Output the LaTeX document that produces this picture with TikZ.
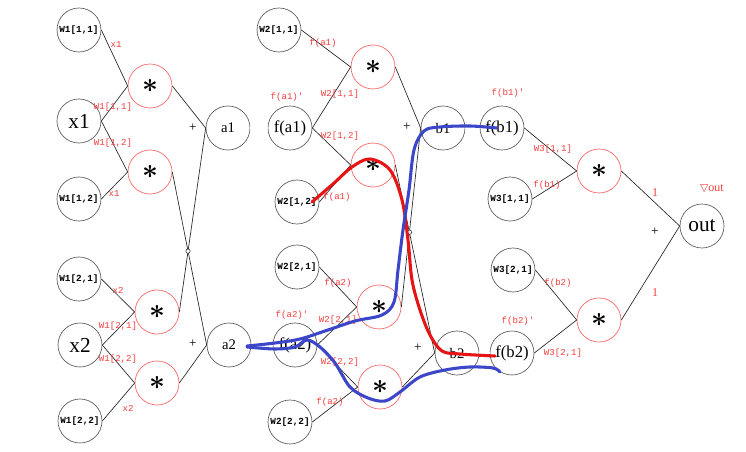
\documentclass[tikz,border=0pt]{standalone}
\usepackage{amsmath}
\usepackage{fontspec}
\setmainfont{Liberation Serif}
\setmonofont{Liberation Mono}
\newfontfamily\symfont{DejaVu Sans}
\usetikzlibrary{intersections}
\definecolor{nodegray}{RGB}{90,90,90}
\definecolor{lred}{RGB}{250,100,100}
\definecolor{labred}{RGB}{245,60,60}
\definecolor{pathred}{RGB}{230,20,20}
\definecolor{pathblue}{RGB}{60,70,200}
\newcommand{\mulsym}{\ensuremath{\boldsymbol{\ast}}}
\begin{document}
\begin{tikzpicture}[x=0.75pt,y=-0.75pt,
  gnode/.style={circle,draw=nodegray,line width=0.5pt,minimum size=33pt,inner sep=0pt},
  mnode/.style={circle,draw=lred,line width=0.5pt,minimum size=33pt,inner sep=0pt,font=\fontsize{20}{20}\selectfont},
  wlab/.style={font=\ttfamily\bfseries\fontsize{7}{7}\selectfont},
  big/.style={font=\fontsize{16}{16}\selectfont},
  mid/.style={font=\fontsize{11}{11}\selectfont},
  fmid/.style={font=\fontsize{12.5}{12.5}\selectfont},
  lab/.style={text=labred,font=\ttfamily\fontsize{6.8}{7}\selectfont,inner sep=0pt},
  conn/.style={draw=black!85,line width=0.5pt},
  dconn/.style={draw=black!70,double=white,double distance=1.2pt,line width=0.4pt},
  jump/.style={draw=black!85,line width=0.4pt,fill=white},
  rpath/.style={draw=pathred,line width=2.3pt,line cap=round},
  bpath/.style={draw=pathblue,line width=2.3pt,line cap=round},
  plus/.style={font=\fontsize{10}{10}\selectfont,inner sep=0pt}]
\useasboundingbox (0,0) rectangle (746,452);
% left column
\node[gnode,wlab] (w111) at (79,30) {W1[1,1]};
\node[gnode,big] (x1) at (79,121) {x1};
\node[gnode,wlab] (w112) at (79,199) {W1[1,2]};
\node[gnode,wlab] (w121) at (79,279) {W1[2,1]};
\node[gnode,big] (x2) at (80,345) {x2};
\node[gnode,wlab] (w122) at (80,421) {W1[2,2]};
\node[mnode] (m11) at (150,86) {\mulsym};
\node[mnode] (m12) at (150,172) {\mulsym};
\node[mnode] (m21) at (157,312) {\mulsym};
\node[mnode] (m22) at (157,383) {\mulsym};
\node[gnode,mid] (a1) at (228,128) {a1};
\node[gnode,mid] (a2) at (229,345) {a2};
% middle column
\node[gnode,fmid] (fa1) at (290,128) {f(a1)};
\node[gnode,fmid] (fa2) at (295,345) {f(a2)};
\node[gnode,wlab] (w211) at (279,30) {W2[1,1]};
\node[gnode,wlab] (w212) at (297,202) {W2[1,2]};
\node[gnode,wlab] (w221) at (297,267) {W2[2,1]};
\node[gnode,wlab] (w222) at (290,422) {W2[2,2]};
\node[mnode] (m31) at (373,67) {\mulsym};
\node[mnode] (m32) at (373,165) {\mulsym};
\node[mnode] (m41) at (379,307) {\mulsym};
\node[mnode] (m42) at (380,387) {\mulsym};
\node[gnode,mid] (b1) at (443,128) {b1};
\node[gnode,mid] (b2) at (457,353) {b2};
% right column
\node[gnode,fmid] (fb1) at (502,128) {f(b1)};
\node[gnode,fmid] (fb2) at (512,353) {f(b2)};
\node[gnode,wlab] (w311) at (510,199) {W3[1,1]};
\node[gnode,wlab] (w321) at (513,270) {W3[2,1]};
\node[mnode] (m51) at (599,171) {\mulsym};
\node[mnode] (m52) at (599,320) {\mulsym};
\node[gnode,big] (out) at (702,226) {out};
% connectors
\draw[conn] (w111.east) -- (m11.west);
\draw[conn] (x1.east) -- (m11.west);
\draw[conn] (x1.east) -- (m12.west);
\draw[conn] (w112.east) -- (m12.west);
\draw[conn] (w121.east) -- (m21.west);
\draw[conn] (x2.east) -- (m21.west);
\draw[conn] (x2.east) -- (m22.west);
\draw[conn] (w122.east) -- (m22.west);
\draw[conn] (m11.east) -- (a1.west);
\draw[conn,name path=lA] (m12.east) -- (a2.west);
\draw[conn,name path=lB] (m21.east) -- (a1.west);
\draw[conn] (m22.east) -- (a2.west);
\draw[dconn] (a1.east) -- (fa1.west);
\draw[dconn] (a2.east) -- (fa2.west);
\draw[conn] (w211.east) -- (m31.west);
\draw[conn] (fa1.east) -- (m31.west);
\draw[conn] (fa1.east) -- (m32.west);
\draw[conn] (w212.east) -- (m32.west);
\draw[conn] (w221.east) -- (m41.west);
\draw[conn] (fa2.east) -- (m41.west);
\draw[conn] (fa2.east) -- (m42.west);
\draw[conn] (w222.east) -- (m42.west);
\draw[conn] (m31.east) -- (b1.west);
\draw[conn,name path=lC] (m32.east) -- (b2.west);
\draw[conn,name path=lD] (m41.east) -- (b1.west);
\draw[conn] (m42.east) -- (b2.west);
\draw[dconn] (b1.east) -- (fb1.west);
\draw[dconn] (b2.east) -- (fb2.west);
\draw[conn] (fb1.east) -- (m51.west);
\draw[conn] (w311.east) -- (m51.west);
\draw[conn] (w321.east) -- (m52.west);
\draw[conn] (fb2.east) -- (m52.west);
\draw[conn] (m51.east) -- (out.west);
\draw[conn] (m52.east) -- (out.west);
\path[name intersections={of=lA and lB,by=j1}];
\path[name intersections={of=lC and lD,by=j2}];
\draw[jump] (j1) circle (2.2);
\draw[jump] (j2) circle (2.2);
% red labels
\node[lab] (l1) at (116,45) {x1};
\node[lab] (l2) at (113,107) {W1[1,1]};
\node[lab] (l3) at (113,143) {W1[1,2]};
\node[lab] (l4) at (114,194) {x1};
\node[lab] (l5) at (118,290) {x2};
\node[lab] (l6) at (118,326) {W1[2,1]};
\node[lab] (l7) at (118,359) {W1[2,2]};
\node[lab] (l8) at (128,408) {x2};
\node[lab] (l9) at (323,43) {f(a1)};
\node[lab] (l10) at (287,97) {f(a1)'};
\node[lab] (l11) at (340,94) {W2[1,1]};
\node[lab] (l12) at (340,136) {W2[1,2]};
\node[lab] (l13) at (337,197) {f(a1)};
\node[lab] (l14) at (338,283) {f(a2)};
\node[lab] (l15) at (292,315) {f(a2)'};
\node[lab] (l16) at (338,320) {W2[2,1]};
\node[lab] (l17) at (340,362) {W2[2,2]};
\node[lab] (l18) at (330,402) {f(a2)};
\node[lab] (l19) at (508,93) {f(b1)'};
\node[lab] (l20) at (553,149) {W3[1,1]};
\node[lab] (l21) at (547,185) {f(b1)};
\node[lab] (l22) at (558,283) {f(b2)};
\node[lab] (l23) at (518,321) {f(b2)'};
\node[lab] (l24) at (563,353) {W3[2,1]};
\node[lab,font=\fontsize{9}{9}\selectfont] (l25) at (655,193) {1};
\node[lab,font=\fontsize{9}{9}\selectfont] (l26) at (655,293) {1};
\node[lab,font=\fontsize{9}{9}\selectfont] (l27) at (712,189) {{\symfont\fontsize{8}{8}\selectfont ▽}out};
% plus signs
\node[plus] (p1) at (193,128) {+};
\node[plus] (p2) at (193,344) {+};
\node[plus] (p3) at (407,127) {+};
\node[plus] (p4) at (418,348) {+};
\node[plus] (p5) at (655,232) {+};
% highlighted paths
\draw[rpath] plot[smooth,tension=0.55] coordinates {(312,202) (333,184) (352,167) (370,159) (390,170) (402,200) (408,240) (412,280) (420,310) (430,335) (442,351) (460,354) (495,356)};
\draw[bpath] plot[smooth,tension=0.55] coordinates {(247,346) (275,343) (300,339) (325,331) (355,321) (382,315) (394,302) (398,270) (403,230) (409,190) (414,150) (424,131) (440,127) (470,126) (497,128)};
\draw[bpath] plot[smooth,tension=0.55] coordinates {(247,347) (275,349) (295,347) (307,340) (320,347) (335,363) (350,387) (368,398) (385,401) (400,392) (420,377) (445,370) (470,367) (493,368) (500,372)};
\end{tikzpicture}
\end{document}
